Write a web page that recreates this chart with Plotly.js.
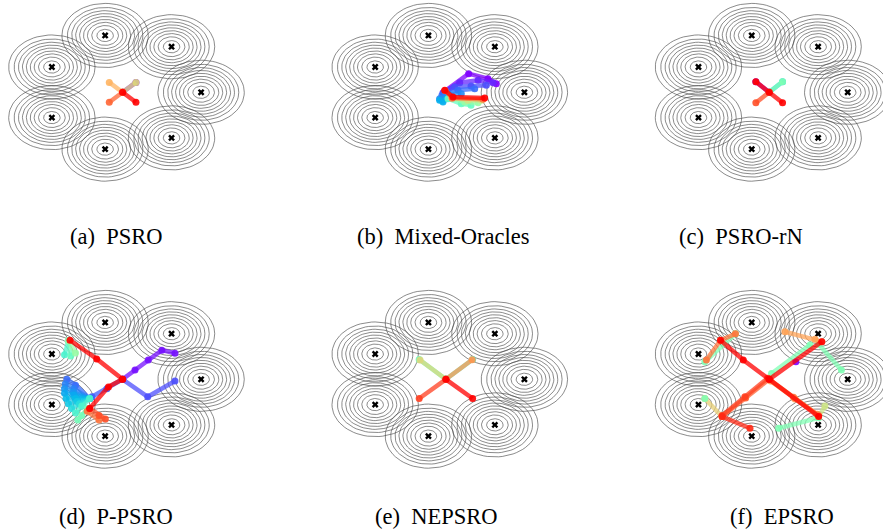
<!DOCTYPE html>
<html>
<head>
<meta charset="utf-8">
<script src="https://cdn.plot.ly/plotly-3.0.1.min.js"></script>
<style>html,body{margin:0;padding:0;background:#fff}#chart{width:883px;height:531px}</style>
</head>
<body>
<div id="chart"></div>
<script>
// ---------- data ----------
const modeAngleDeg = [0, 51.43, 102.86, 154.29, 205.71, 257.14, 308.57];   // 7 Gaussian modes on unit circle
const ringRadii = [0.55, 0.48, 0.425, 0.375, 0.325, 0.275, 0.225, 0.17, 0.105]; // contour radii
const panelLabels = ['(a)\u00a0 PSRO', '(b)\u00a0 Mixed-Oracles', '(c)\u00a0 PSRO-rN',
                     '(d)\u00a0 P-PSRO', '(e)\u00a0 NEPSRO', '(f)\u00a0 EPSRO'];

// trajectories: [colour index t (0=first, 1=last), xs, ys]
const psroTraj = [
  [0.00, [0, 0.17], [0, 0.17]],
  [0.68, [0, 0.17], [0, 0.17]],
  [0.75, [0, -0.17], [0, 0.17]],
  [0.87, [0, -0.17], [0, -0.17]],
  [1.00, [0, 0.17], [0, -0.17]]
];
const mixedTraj = [
  [0.00, [-0.015, 0.29, 0.536, 0.642], [0.017, 0.32, 0.233, 0.148]],
  [0.05, [-0.037, 0.176, 0.41, 0.60], [-0.007, 0.165, 0.205, 0.165]],
  [0.10, [-0.02, 0.11, 0.32, 0.515], [0.0, 0.09, 0.108, 0.12]],
  [0.14, [-0.05, 0.154, 0.367], [-0.05, 0.034, 0.06]],
  [0.18, [-0.08, 0.027, 0.196], [-0.11, -0.024, -0.024]],
  [0.24, [-0.08, -0.037, 0.005], [-0.137, -0.166, -0.11]],
  [0.45, [0.027, 0.196, 0.32], [-0.11, -0.196, -0.22]],
  [0.55, [0.07, 0.24, 0.41], [-0.098, -0.166, -0.178]],
  [0.65, [0.07, 0.28, 0.45], [-0.09, -0.137, -0.137]],
  [0.85, [-0.01, 0.08, 0.473], [0.03, -0.10, -0.12]],
  [1.00, [-0.015, 0.09, 0.494], [0.034, -0.08, -0.098]]
];
const rnTraj = [
  [0.00, [0, -0.17], [0, 0.18]],
  [0.30, [0, 0.17], [0, 0.18]],
  [0.50, [0, 0.17], [0, 0.18]],
  [0.90, [0, -0.17], [0, -0.18]],
  [1.00, [-0.17, 0, 0.17], [0.18, 0, -0.18]]
];
const ppsroTraj = [
  [0.02, [0, 0.158, 0.327, 0.50, 0.667], [0, 0.16, 0.33, 0.50, 0.446]],
  [0.10, [0, 0.32, 0.667], [0, -0.30, -0.03]],
  [0.12, [0, -0.20, -0.39], [0, -0.16, -0.30]],
  [0.14, [-0.42, -0.60, -0.71], [-0.33, -0.10, 0.00]],
  [0.17, [-0.42, -0.62, -0.73], [-0.33, -0.16, -0.08]],
  [0.20, [-0.42, -0.63, -0.74], [-0.33, -0.22, -0.16]],
  [0.23, [-0.42, -0.62, -0.74], [-0.33, -0.27, -0.24]],
  [0.26, [-0.42, -0.60, -0.72], [-0.33, -0.33, -0.33]],
  [0.29, [-0.42, -0.58, -0.69], [-0.33, -0.38, -0.42]],
  [0.33, [-0.42, -0.55, -0.65], [-0.33, -0.42, -0.50]],
  [0.40, [-0.42, -0.52, -0.60], [-0.33, -0.46, -0.58]],
  [0.48, [-0.45, -0.52, -0.57], [-0.50, -0.62, -0.70]],
  [0.40, [-0.69, -0.74], [0.66, 0.42]],
  [0.45, [-0.69, -0.66], [0.66, 0.40]],
  [0.55, [-0.69, -0.60], [0.66, 0.45]],
  [0.85, [-0.45, -0.30], [-0.55, -0.70]],
  [0.90, [-0.42, -0.30, -0.22], [-0.50, -0.62, -0.68]],
  [1.00, [0, -0.18, -0.42], [0, -0.13, -0.50]],
  [1.00, [0, -0.33, -0.67], [0, 0.35, 0.67]]
];
const nepsroTraj = [
  [0.00, [0], [0]],
  [0.45, [0, -0.34], [0, 0.34]],
  [0.68, [0, -0.33], [0, 0.33]],
  [0.40, [0, 0.34], [0, 0.34]],
  [0.80, [0, 0.335], [0, 0.335]],
  [0.92, [0, -0.34], [0, -0.33]],
  [1.00, [0, 0.34], [0, -0.33]]
];
const epsroTraj = [
  [0.00, [0.34], [0.30]],
  [0.50, [0.03, 0.52], [0.10, 0.59]],
  [0.50, [0.63, 0.92], [0.60, 0.16]],
  [0.50, [-0.82, -0.43], [0.30, 0.78]],
  [0.60, [-0.43], [0.78]],
  [0.70, [-0.82, -0.60], [-0.33, -0.64]],
  [0.50, [-0.82], [-0.33]],
  [0.50, [0.63, 0.12], [-0.66, -0.84]],
  [0.65, [0.63, 0.71], [-0.64, -0.46]],
  [0.78, [0.20, 0.583, 0.67], [0.816, 0.686, 0.645]],
  [0.85, [-0.80, -0.62, -0.43], [0.33, 0.67, 0.78]],
  [0.80, [0.02, 0.33, 0.61], [-0.03, -0.34, -0.60]],
  [0.85, [0, 0.31, 0.63], [0, -0.31, -0.62]],
  [0.88, [0, -0.30, -0.60], [0, -0.32, -0.64]],
  [0.92, [-0.02, -0.31, -0.60], [0.02, -0.30, -0.62]],
  [0.95, [-0.60, -0.245], [-0.64, -0.84]],
  [1.00, [-0.62, -0.33, 0, 0.63], [0.67, 0.33, 0, -0.64]],
  [1.00, [0, 0.67], [0, 0.645]]
];
const panelTraj = [psroTraj, mixedTraj, rnTraj, ppsroTraj, nepsroTraj, epsroTraj];

// ---------- layout geometry (pixels) ----------
const W = 883, H = 531;
const colCx = [122.6, 445.9, 769.2];
const rowCy = [92.3, 379.3];
const sx = 78.5, sy = 58.3;          // pixels per data unit
const capX = [116.5, 443, 741, 116, 436, 782];
const capY = [236, 236, 236, 516, 516, 516];

function rainbow(t, a) {
  const r = Math.min(1, Math.abs(2 * t - 0.5));
  const g = Math.sin(Math.PI * t);
  const b = Math.cos(Math.PI * t / 2);
  return 'rgba(' + Math.round(r * 255) + ',' + Math.round(g * 255) + ',' + Math.round(b * 255) + ',' + a + ')';
}

const traces = [];
const layout = {
  width: W, height: H, margin: {l: 0, r: 0, t: 0, b: 0},
  paper_bgcolor: '#fff', plot_bgcolor: 'rgba(0,0,0,0)', showlegend: false,
  annotations: []
};

for (let i = 0; i < 6; i++) {
  const cx = colCx[i % 3], cy = rowCy[Math.floor(i / 3)];
  const L = Math.max(0, cx - 150), R = Math.min(W, cx + 150);
  const T = Math.max(0, cy - 100), B = Math.min(H, cy + 100);
  const n = i === 0 ? '' : String(i + 1);
  layout['xaxis' + n] = {domain: [L / W, R / W], range: [(L - cx) / sx, (R - cx) / sx],
    visible: false, fixedrange: true, anchor: 'y' + n};
  layout['yaxis' + n] = {domain: [1 - B / H, 1 - T / H], range: [(cy - B) / sy, (cy - T) / sy],
    visible: false, fixedrange: true, anchor: 'x' + n};
  const xa = 'x' + n, ya = 'y' + n;

  // contour rings
  const rx = [], ry = [];
  modeAngleDeg.forEach(function (d) {
    const mx = Math.cos(d * Math.PI / 180), my = Math.sin(d * Math.PI / 180);
    ringRadii.forEach(function (r) {
      for (let k = 0; k <= 72; k++) {
        const a = 2 * Math.PI * k / 72;
        rx.push(mx + r * Math.cos(a)); ry.push(my + r * Math.sin(a));
      }
      rx.push(null); ry.push(null);
    });
  });
  traces.push({type: 'scatter', mode: 'lines', x: rx, y: ry, xaxis: xa, yaxis: ya,
    line: {color: 'rgba(70,70,70,0.7)', width: 0.9}, hoverinfo: 'skip'});

  // mode centres
  traces.push({type: 'scatter', mode: 'markers', xaxis: xa, yaxis: ya, hoverinfo: 'skip',
    x: modeAngleDeg.map(function (d) { return Math.cos(d * Math.PI / 180); }),
    y: modeAngleDeg.map(function (d) { return Math.sin(d * Math.PI / 180); }),
    marker: {symbol: 'x', size: 6, color: '#000', line: {width: 0}}});

  // trajectories
  panelTraj[i].forEach(function (tr) {
    const t = tr[0];
    traces.push({type: 'scatter', mode: 'lines+markers', x: tr[1], y: tr[2], xaxis: xa, yaxis: ya,
      hoverinfo: 'skip', cliponaxis: false,
      line: {color: rainbow(t, 0.75), width: 4.5},
      marker: {color: rainbow(t, 0.9), size: 7, line: {width: 0}}});
  });

  layout.annotations.push({xref: 'paper', yref: 'paper', x: capX[i] / W, y: 1 - capY[i] / H,
    xanchor: 'center', yanchor: 'middle', showarrow: false, text: panelLabels[i],
    font: {family: 'Liberation Serif', size: 22.5, color: '#000'}});
}

Plotly.newPlot('chart', traces, layout, {staticPlot: true, displayModeBar: false});
</script>
</body>
</html>
